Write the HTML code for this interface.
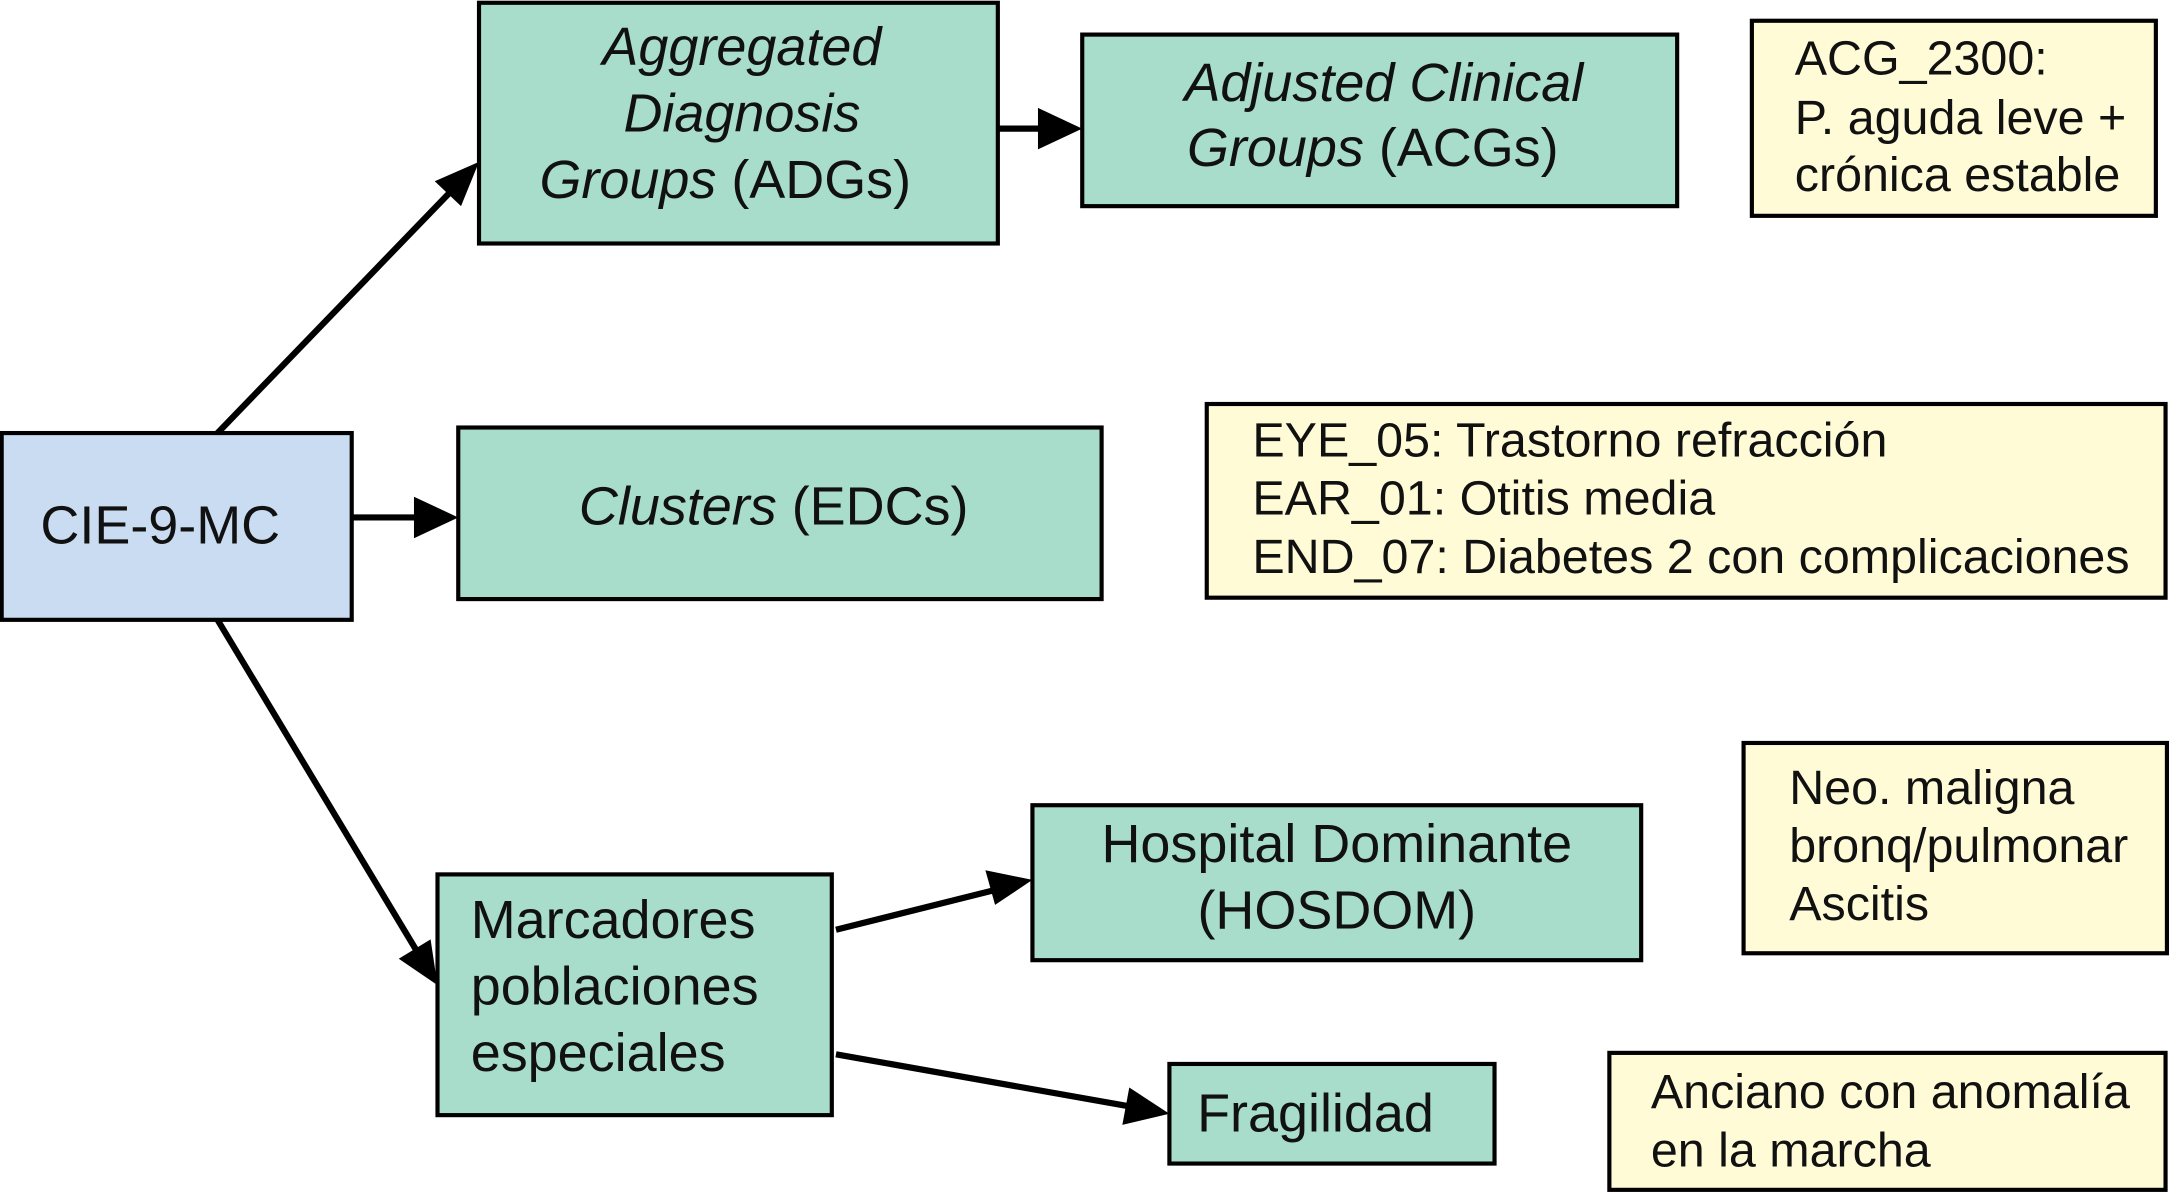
<!DOCTYPE html>
<html><head><meta charset="utf-8"><style>
html,body{margin:0;padding:0;background:#fff}
svg{display:block}
text{font-family:"Liberation Sans",Arial,sans-serif;fill:#111}
</style></head><body>
<svg width="2170" height="1194" viewBox="0 0 1568 863" xmlns="http://www.w3.org/2000/svg">
<g stroke="#000" stroke-width="3">
<rect x="346" y="2" width="375" height="174" fill="#a8dccb"/>
<rect x="782" y="25" width="430" height="124" fill="#a8dccb"/>
<rect x="1266" y="15" width="292" height="141" fill="#fffbd6"/>
<rect x="1" y="313" width="253" height="135" fill="#c9dcf2"/>
<rect x="331" y="309" width="465" height="124" fill="#a8dccb"/>
<rect x="872" y="292" width="693" height="140" fill="#fffbd6"/>
<rect x="316" y="632" width="285" height="174" fill="#a8dccb"/>
<rect x="746" y="582" width="440" height="112" fill="#a8dccb"/>
<rect x="1260" y="537" width="306" height="152" fill="#fffbd6"/>
<rect x="845" y="769" width="235" height="72" fill="#a8dccb"/>
<rect x="1163" y="761" width="402" height="99" fill="#fffbd6"/>
</g>
<g stroke="#000" stroke-width="4.5" fill="none">
<line x1="157" y1="313" x2="326" y2="138"/>
<line x1="721" y1="93" x2="756" y2="93"/>
<line x1="254" y1="374" x2="305" y2="374"/>
<line x1="157" y1="448" x2="302" y2="689"/>
<line x1="604" y1="672" x2="720" y2="643"/>
<line x1="604" y1="762" x2="818" y2="800"/>
</g>
<g fill="#000">
<polygon points="346,117 333,149 314,131"/>
<polygon points="782,93 750,78 750,108"/>
<polygon points="331,374 299,359 299,389"/>
<polygon points="316,712 288,693 311,679"/>
<polygon points="746,636 712,629 719,654"/>
<polygon points="845,805 816,786 811,813"/>
</g>
<g font-size="39">
<text x="536" y="47" text-anchor="middle" font-style="italic">Aggregated</text>
<text x="536" y="95" text-anchor="middle" font-style="italic">Diagnosis</text>
<text x="524" y="143" text-anchor="middle"><tspan font-style="italic">Groups</tspan> (ADGs)</text>
<text x="1000" y="73" text-anchor="middle" font-style="italic">Adjusted Clinical</text>
<text x="992" y="120" text-anchor="middle"><tspan font-style="italic">Groups</tspan> (ACGs)</text>
<text x="29" y="393">CIE-9-MC</text>
<text x="559" y="379" text-anchor="middle"><tspan font-style="italic">Clusters</tspan> (EDCs)</text>
<text x="340" y="678">Marcadores</text>
<text x="340" y="726">poblaciones</text>
<text x="340" y="774">especiales</text>
<text x="966" y="623" text-anchor="middle">Hospital Dominante</text>
<text x="966" y="671" text-anchor="middle">(HOSDOM)</text>
<text x="865" y="818">Fragilidad</text>
</g>
<g font-size="35">
<text x="1297" y="54">ACG_2300:</text>
<text x="1297" y="97">P. aguda leve +</text>
<text x="1297" y="138">crónica estable</text>
<text x="905" y="330">EYE_05: Trastorno refracción</text>
<text x="905" y="372">EAR_01: Otitis media</text>
<text x="905" y="414">END_07: Diabetes 2 con complicaciones</text>
<text x="1293" y="581">Neo. maligna</text>
<text x="1293" y="623">bronq/pulmonar</text>
<text x="1293" y="665">Ascitis</text>
<text x="1193" y="801">Anciano con anomalía</text>
<text x="1193" y="843">en la marcha</text>
</g>
</svg>
</body></html>
